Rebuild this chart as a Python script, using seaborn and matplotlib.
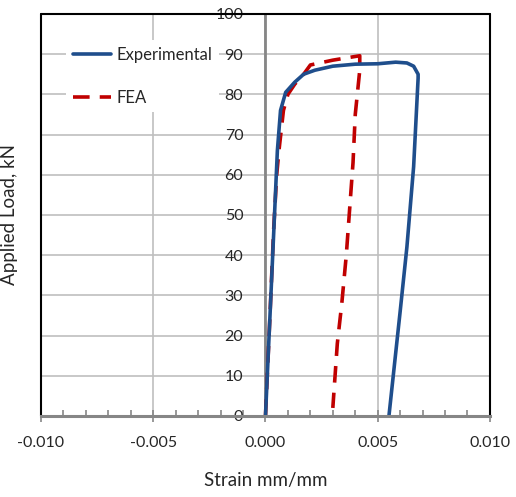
import matplotlib
matplotlib.use("Agg")
import matplotlib.pyplot as plt
from matplotlib.ticker import MultipleLocator, FormatStrFormatter
import pandas as pd
import seaborn as sns

# Experimental load-strain curve (loading then unloading)
exp_strain = [0.0, 0.00037, 0.00053, 0.00067, 0.0009, 0.0013, 0.0017,
              0.0022, 0.003, 0.004, 0.005, 0.0058, 0.0063, 0.0066, 0.0068, 0.0068,
              0.0066, 0.0063, 0.006, 0.0055]
exp_load = [0.0, 46, 66, 76, 80.5, 83, 85,
            86, 87, 87.5, 87.6, 88, 87.8, 87, 85, 84,
            62, 42, 26, 0.0]

# FEA load-strain curve
fea_strain = [0.0, 0.00008, 0.0002, 0.00036, 0.0005, 0.0006, 0.0008, 0.001, 0.0013, 0.0017,
              0.002, 0.003, 0.0042, 0.0042, 0.004, 0.0039, 0.0036, 0.0034, 0.0032, 0.003]
fea_load = [0.0, 10, 25, 46, 60, 66, 76, 80, 82.5, 85,
            87.3, 88.5, 89.6, 86, 75, 63, 40, 28, 18, 2]

exp_df = pd.DataFrame({"strain": exp_strain, "load": exp_load})
fea_df = pd.DataFrame({"strain": fea_strain, "load": fea_load})

sns.set_style("white")
plt.rcParams["font.family"] = ["Lato", "DejaVu Sans"]

fig = plt.figure(figsize=(5.16, 4.97), dpi=100)
ax = fig.add_axes([0.0795, 0.163, 0.870, 0.809])

sns.lineplot(data=exp_df, x="strain", y="load", sort=False, estimator=None,
             color="#1F4E8C", linewidth=2.6, label="Experimental", ax=ax, zorder=4)
sns.lineplot(data=fea_df, x="strain", y="load", sort=False, estimator=None,
             color="#C00000", linewidth=2.6, label="FEA", ax=ax, zorder=3)
ax.lines[1].set_dashes([4.6, 2.8])

ax.set_xlim(-0.010, 0.010)
ax.set_ylim(0, 100)
ax.xaxis.set_major_locator(MultipleLocator(0.005))
ax.xaxis.set_minor_locator(MultipleLocator(0.001))
ax.xaxis.set_major_formatter(FormatStrFormatter("%.3f"))
ax.yaxis.set_major_locator(MultipleLocator(10))

ax.grid(True, which="major", color="#BFBFBF", linewidth=1.2)
ax.set_axisbelow(True)

# black frame on left, top and right
for xs, ys in [([0, 0], [0, 1]), ([0, 1], [1, 1]), ([1, 1], [1, 0])]:
    ax.plot(xs, ys, transform=ax.transAxes, color="black", linewidth=1.5,
            clip_on=False, zorder=5)

# y axis crosses at x = 0
ax.spines["left"].set_position(("data", 0))
ax.spines["left"].set_color("#868686")
ax.spines["left"].set_linewidth(2)
ax.spines["left"].set_zorder(2)
ax.spines["bottom"].set_color("#868686")
ax.spines["bottom"].set_linewidth(2.2)
ax.spines["bottom"].set_zorder(6)
for s in ["top", "right"]:
    ax.spines[s].set_visible(False)

ax.tick_params(axis="x", which="major", bottom=True, direction="inout", length=9, width=1.2,
               color="#868686", labelsize=11.5, pad=10)
ax.tick_params(axis="x", which="minor", bottom=True, direction="in", length=4, width=1.2,
               color="#868686")
ax.tick_params(axis="y", which="major", direction="inout", length=0, labelsize=11.5, pad=16)

ax.set_xlabel("Strain mm/mm", fontsize=13.5, labelpad=16)
ax.set_ylabel("Applied Load, kN", fontsize=13.5)
ax.yaxis.set_label_coords(-0.052, 0.5)

leg = ax.legend(loc="upper left", bbox_to_anchor=(0.038, 0.955), frameon=True,
                facecolor="white", edgecolor="none", framealpha=1, fancybox=False,
                fontsize=12, handlelength=2.3, handletextpad=0.3, labelspacing=1.6,
                borderpad=0.4)
leg.set_zorder(6)

fig.savefig("out.png", dpi=100)
